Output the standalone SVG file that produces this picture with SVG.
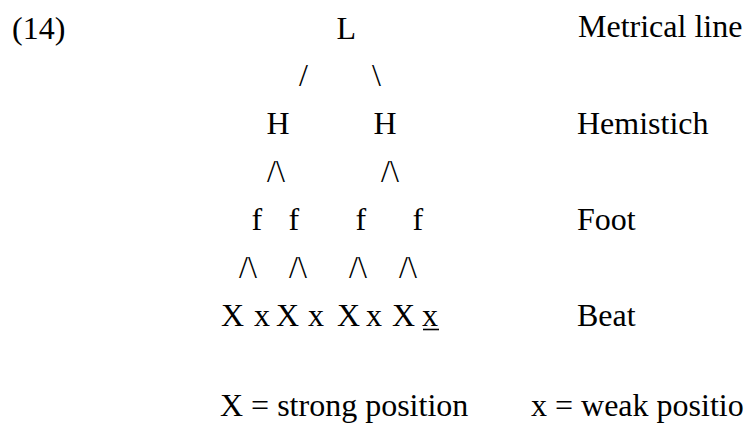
<svg xmlns="http://www.w3.org/2000/svg" width="744" height="425" viewBox="0 0 744 425">
  <style>
    text { font-family: "Liberation Serif", "Times New Roman", serif; font-size: 32px; fill: #000; }
    .ul { stroke: #000; stroke-width: 1.6; }
  </style>
  <rect width="744" height="425" fill="#fff"/>

  <!-- example number -->
  <text id="label-14" x="12" y="39">(14)</text>

  <!-- level names -->
  <g id="levels">
    <text x="578" y="37">Metrical line</text>
    <text x="577" y="134">Hemistich</text>
    <text x="577" y="230">Foot</text>
    <text x="577" y="326">Beat</text>
  </g>

  <!-- tree nodes -->
  <g id="node-L"><text x="336.5" y="39">L</text></g>
  <g id="node-H1"><text x="266.5" y="134">H</text></g>
  <g id="node-H2"><text x="373.5" y="134">H</text></g>
  <g id="node-f1"><text x="251.5" y="230">f</text></g>
  <g id="node-f2"><text x="288.5" y="230">f</text></g>
  <g id="node-f3"><text x="355.5" y="230">f</text></g>
  <g id="node-f4"><text x="412.5" y="230">f</text></g>
  <g id="node-beats">
    <text x="221" y="326">X</text>
    <text x="254" y="326">x</text>
    <text x="276" y="326">X</text>
    <text x="308" y="326">x</text>
    <text x="337" y="326">X</text>
    <text x="366" y="326">x</text>
    <text x="392" y="326">X</text>
    <text x="422" y="326">x</text>
    <line class="ul" x1="423" y1="329.5" x2="439" y2="329.5"/>
  </g>

  <!-- branches typed as slash characters -->
  <g id="connectors">
    <text x="299" y="86">/</text>
    <text x="372" y="86">\</text>
    <text x="267" y="182">/\</text>
    <text x="381" y="182">/\</text>
    <text x="239" y="278">/\</text>
    <text x="289" y="278">/\</text>
    <text x="349" y="278">/\</text>
    <text x="399" y="278">/\</text>
  </g>

  <!-- legend -->
  <g id="legend">
    <text x="220" y="416">X = strong position</text>
    <text x="531" y="416">x = weak positio</text>
  </g>
</svg>
